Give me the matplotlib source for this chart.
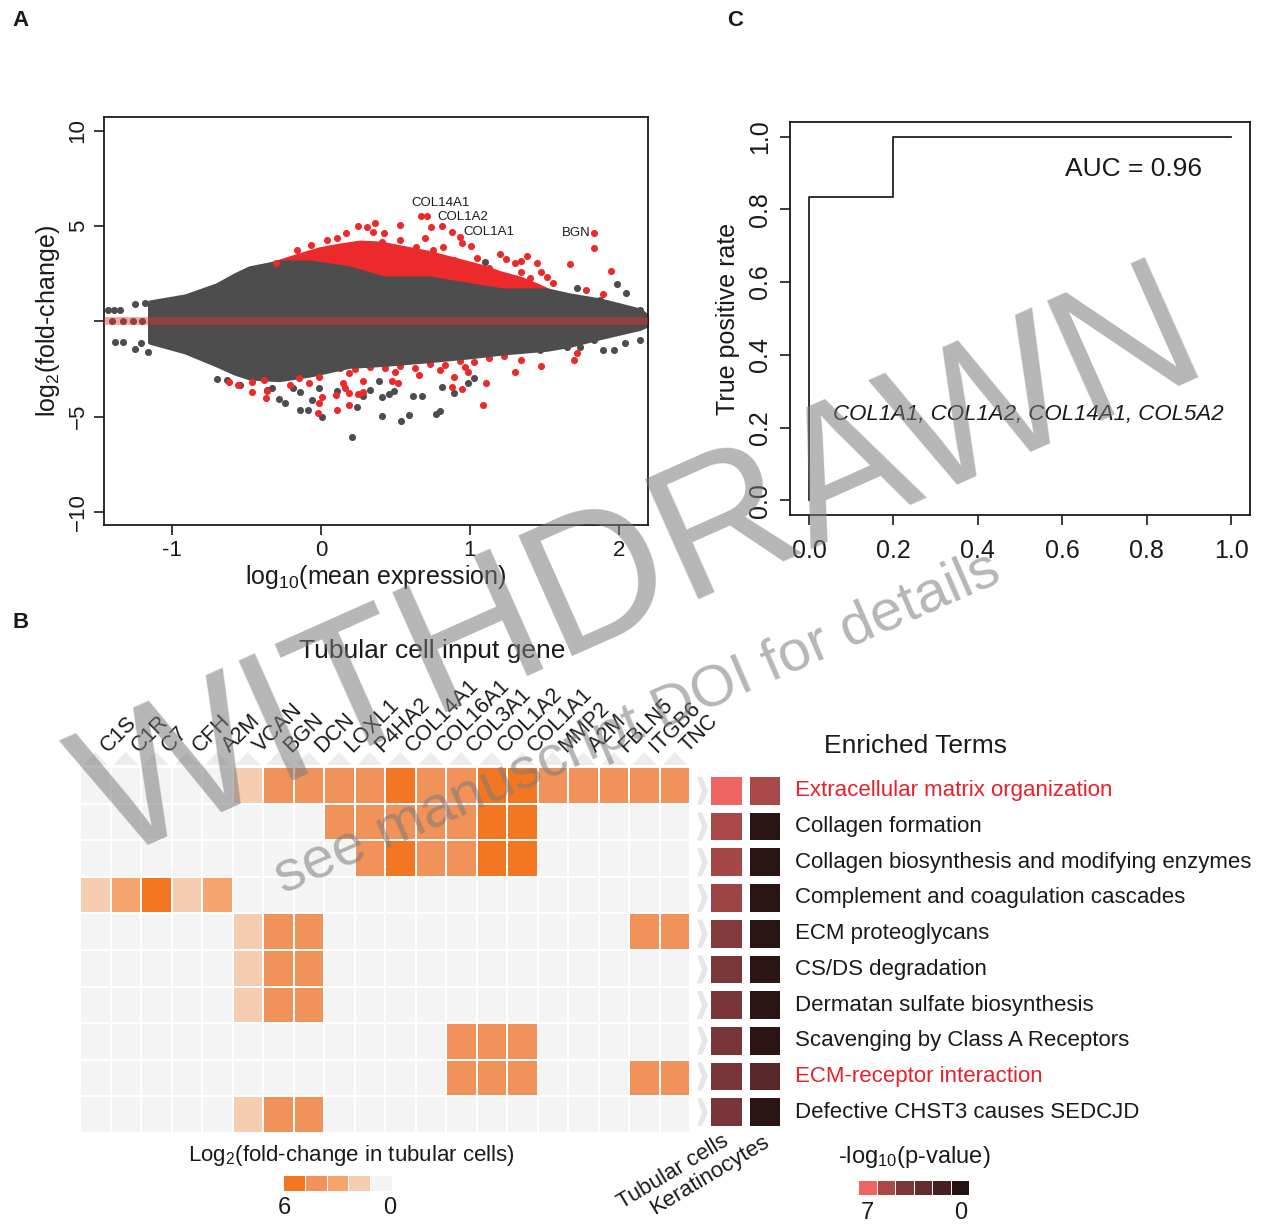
import numpy as np
import matplotlib.pyplot as plt
from matplotlib.colors import ListedColormap, BoundaryNorm, LinearSegmentedColormap, Normalize

plt.rcParams['font.family'] = ['Liberation Sans', 'DejaVu Sans']
plt.rcParams['mathtext.fontset'] = 'custom'
plt.rcParams['mathtext.rm'] = 'Liberation Sans'
plt.rcParams['mathtext.it'] = 'Liberation Sans:italic'

# ---------------- data ----------------
# panel A: MA plot, dense cloud given as envelopes
core_x = [-1.15, -0.91, -0.70, -0.58, -0.48, -0.28, -0.07, 0.19, 0.42, 0.73, 1.00, 1.22, 1.52, 1.67, 1.87, 2.14, 2.19]
core_hi = [1.02, 1.34, 1.92, 2.44, 2.81, 3.12, 3.12, 2.81, 2.28, 2.28, 1.92, 1.65, 1.65, 1.39, 1.13, 0.60, 0.29]
core_lo = [-1.08, -1.60, -2.28, -2.70, -2.96, -3.05, -2.80, -2.35, -2.25, -2.05, -1.85, -1.65, -1.45, -1.25, -0.85, -0.36, -0.18]

red_up_x = [-0.36, -0.28, -0.14, -0.01, 0.13, 0.26, 0.40, 0.53, 0.73, 0.90, 1.07, 1.20, 1.34, 1.45, 1.52]
red_up_y = [3.0, 3.2, 3.55, 3.85, 4.05, 4.2, 4.15, 3.95, 3.65, 3.3, 2.95, 2.6, 2.3, 1.95, 1.7]

red_pts_x = [0.25, 0.31, 0.36, 0.35, 0.53, 0.42, 0.17, 0.11, 0.53, 0.41, 0.64, 0.67, 0.71, 0.74, 0.81,
             0.88, 0.93, 0.95, 1.01, 0.70, 1.20, 1.24, 1.30, 1.34, 1.38, 1.45, 1.48, 1.52, 1.56, 1.67,
             1.83, 1.83, 1.95, 1.78, 1.89,
             -0.30, -0.16, -0.07, 0.04, 0.17, 0.31, 0.44, 0.58, 0.75, 0.82, 0.89, 1.05, 1.13, 1.34, 1.40, 1.32,
             -0.62, -0.56, -0.46, -0.46, -0.38, -0.37, -0.36, -0.21, -0.15, -0.08, -0.01, 0.01, -0.01,
             -0.02, 0.11, 0.19, 0.10, 0.19, 0.25, 0.28, 0.15, 0.16, 0.28, 0.48, 0.52, 0.66, 0.88, 0.95,
             0.89, 1.09, 1.11, 1.30, 1.34, 1.48, 1.72, 1.70, 0.99, 0.97,
             0.13, 0.23, 0.33, 0.43, 0.53, 0.63, 0.73, 0.83, 0.93, 1.03, 1.13, 1.23, 0.19, 0.50, 0.80]
red_pts_y = [5.01, 4.96, 5.17, 4.70, 5.06, 4.64, 4.64, 4.38, 4.28, 4.17, 3.91, 5.54, 5.54, 4.96, 5.01,
             4.70, 4.43, 4.12, 3.96, 4.38, 3.54, 3.28, 3.07, 3.17, 3.44, 3.07, 2.60, 2.33, 2.02, 3.02,
             4.64, 3.86, 2.65, 1.65, 1.44,
             3.07, 3.75, 4.01, 4.28, 3.91, 3.86, 3.75, 3.39, 3.75, 3.91, 3.23, 3.33, 2.81, 2.60, 2.28, 2.07,
             -3.17, -3.33, -3.17, -3.70, -3.07, -4.01, -3.65, -3.33, -2.96, -3.23, -2.91, -3.96, -4.28,
             -4.80, -4.64, -4.38, -3.86, -3.75, -3.80, -3.70, -3.23, -3.49, -3.12, -3.12, -3.23, -2.81,
             -3.44, -3.54, -2.91, -4.38, -3.23, -2.65, -2.02, -2.33, -1.65, -2.02, -2.65, -2.39,
             -2.45, -2.50, -2.40, -2.45, -2.35, -2.44, -2.25, -2.28, -2.10, -2.12, -1.90, -1.80, -2.70, -2.65, -2.54]

grey_pts_x = [-1.43, -1.39, -1.35, -1.25, -1.18, -1.40, -1.33, -1.26, -1.20, -1.38, -1.33, -1.21, -1.25,
              -1.16, -0.70, -0.63, -0.54, -0.52, -0.28, -0.24, -0.14, -0.09, -0.06, 0.01, -0.36, -0.33,
              -0.19, -0.14, -0.01, 0.21, 0.41, 0.54, 0.59, 0.77, 0.80, 0.62, 0.68, 0.41, 0.46, 0.49,
              0.24, 0.28, 0.11, 0.81, 0.89, 0.99, 1.03, 0.33, 0.39, 1.89, 1.97, 2.04, 2.14, 1.47, 1.65,
              1.74, 1.83, 1.10, 1.99, 2.05, 1.72, 1.87, 2.14]
grey_pts_y = [0.60, 0.60, 0.60, 0.92, 0.97, 0.00, 0.00, 0.00, 0.00, -1.08, -1.08, -1.13, -1.44,
              -1.60, -3.02, -3.07, -3.33, -2.54, -4.07, -4.28, -4.64, -4.64, -4.12, -5.01, -3.59, -3.49,
              -3.49, -3.70, -3.49, -6.06, -4.96, -5.22, -4.91, -4.85, -4.70, -3.91, -3.91, -3.96, -3.80, -3.65,
              -4.49, -3.91, -3.65, -3.44, -3.75, -3.23, -2.96, -3.59, -3.12, -1.50, -1.50, -1.13, -0.97, -1.50, -1.34,
              -1.34, -0.97, 3.12, 1.97, 1.50, 1.76, 1.13, 0.60]

gene_labels = ['COL14A1', 'COL1A2', 'COL1A1', 'BGN']
gene_label_xy = [(0.805, 6.22), (0.953, 5.48), (1.128, 4.70), (1.711, 4.64)]

# panel C: ROC curve
fpr = [0.0, 0.0, 0.2, 0.2, 1.0]
tpr = [0.0, 0.833, 0.833, 1.0, 1.0]

# panel B: heatmap of log2 fold change (rows = terms, cols = genes)
genes = ['C1S', 'C1R', 'C7', 'CFH', 'A2M', 'VCAN', 'BGN', 'DCN', 'LOXL1', 'P4HA2', 'COL14A1',
         'COL16A1', 'COL3A1', 'COL1A2', 'COL1A1', 'MMP2', 'A2M', 'FBLN5', 'ITGB6', 'TNC']
terms = ['Extracellular matrix organization', 'Collagen formation',
         'Collagen biosynthesis and modifying enzymes', 'Complement and coagulation cascades',
         'ECM proteoglycans', 'CS/DS degradation', 'Dermatan sulfate biosynthesis',
         'Scavenging by Class A Receptors', 'ECM-receptor interaction', 'Defective CHST3 causes SEDCJD']
highlighted = ['Extracellular matrix organization', 'ECM-receptor interaction']
fold = [
    [0, 0, 0, 0, 0, 1.5, 4.5, 4.5, 4.5, 4.5, 6, 4.5, 4.5, 6, 6, 4.5, 4.5, 4.5, 4.5, 4.5],
    [0, 0, 0, 0, 0, 0, 0, 0, 4.5, 4.5, 4.5, 4.5, 4.5, 6, 6, 0, 0, 0, 0, 0],
    [0, 0, 0, 0, 0, 0, 0, 0, 0, 4.5, 6, 4.5, 4.5, 6, 6, 0, 0, 0, 0, 0],
    [1.5, 3, 6, 1.5, 3, 0, 0, 0, 0, 0, 0, 0, 0, 0, 0, 0, 0, 0, 0, 0],
    [0, 0, 0, 0, 0, 1.5, 4.5, 4.5, 0, 0, 0, 0, 0, 0, 0, 0, 0, 0, 4.5, 4.5],
    [0, 0, 0, 0, 0, 1.5, 4.5, 4.5, 0, 0, 0, 0, 0, 0, 0, 0, 0, 0, 0, 0],
    [0, 0, 0, 0, 0, 1.5, 4.5, 4.5, 0, 0, 0, 0, 0, 0, 0, 0, 0, 0, 0, 0],
    [0, 0, 0, 0, 0, 0, 0, 0, 0, 0, 0, 0, 4.5, 4.5, 4.5, 0, 0, 0, 0, 0],
    [0, 0, 0, 0, 0, 0, 0, 0, 0, 0, 0, 0, 4.5, 4.5, 4.5, 0, 0, 0, 4.5, 4.5],
    [0, 0, 0, 0, 0, 1.5, 4.5, 4.5, 0, 0, 0, 0, 0, 0, 0, 0, 0, 0, 0, 0],
]
# -log10(p) for the two cell types
p_tubular = [7.0, 5.6, 5.5, 5.2, 4.4, 4.1, 4.0, 4.0, 4.0, 4.0]
p_kerat = [5.6, 0.3, 0.3, 0.3, 0.3, 0.3, 0.3, 0.3, 2.2, 0.3]
cell_types = ['Tubular cells', 'Keratinocytes']
fold_bar = [6, 4.5, 3, 1.5, 0]
p_bar = [7, 5.6, 4.2, 2.8, 1.4, 0]

# ---------------- figure ----------------
W, H = 1266, 1226
fig = plt.figure(figsize=(W / 100, H / 100), dpi=100)
TXT = '#1a1a1a'
GREY = '#4d4d4d'
RED = '#ec2a2c'


def box(l, t, r, b):
    return [l / W, 1 - b / H, (r - l) / W, (b - t) / H]


# ---- panel A ----
axA = fig.add_axes(box(104, 117, 648, 525))
axA.fill_between(red_up_x, 1.0, red_up_y, color=RED, lw=2, zorder=1)
axA.scatter(red_pts_x[-15:], red_pts_y[-15:], s=26, c=RED, lw=0, zorder=1.5)
axA.fill_between(core_x, core_lo, core_hi, color=GREY, lw=3, zorder=2)
axA.scatter(grey_pts_x, grey_pts_y, s=26, c=GREY, lw=0, zorder=3)
axA.scatter(red_pts_x[:-15], red_pts_y[:-15], s=26, c=RED, lw=0, zorder=3)
axA.axhline(0, color='#e8302f', alpha=0.45, lw=5.5, zorder=4)
for g, (gx, gy) in zip(gene_labels, gene_label_xy):
    axA.text(gx, gy, g, fontsize=9.5, color=TXT, ha='center', va='center', zorder=5)
axA.set_xlim(-1.456, 2.195)
axA.set_ylim(-10.68, 10.73)
axA.set_xticks([-1, 0, 1, 2])
axA.set_xticklabels(['-1', '0', '1', '2'])
axA.set_yticks([-10, -5, 0, 5, 10])
axA.set_yticklabels(['\u221210', '\u22125', '', '5', '10'])
axA.tick_params(labelsize=16, length=7, width=1.2, colors=TXT, pad=4)
axA.tick_params(axis='y', labelrotation=90)
for lab in axA.get_yticklabels():
    lab.set_va('center')
for s in axA.spines.values():
    s.set_linewidth(1.3)
    s.set_color(TXT)
axA.set_xlabel(r'log$_{\mathregular{10}}$(mean expression)', fontsize=18, color=TXT, labelpad=1)
axA.set_ylabel(r'log$_{\mathregular{2}}$(fold-change)', fontsize=18, color=TXT, labelpad=4)

# ---- panel C ----
axC = fig.add_axes(box(790, 122, 1250, 515))
axC.plot(fpr, tpr, color='#222222', lw=1.3)
axC.set_xlim(-0.045, 1.045)
axC.set_ylim(-0.04, 1.04)
ticks = [0, 0.2, 0.4, 0.6, 0.8, 1.0]
axC.set_xticks(ticks)
axC.set_yticks(ticks)
axC.set_xticklabels(['%.1f' % t for t in ticks])
axC.set_yticklabels(['%.1f' % t for t in ticks])
axC.tick_params(labelsize=18, length=7, width=1.2, colors=TXT, pad=10)
axC.tick_params(axis='y', labelrotation=90, pad=6)
for lab in axC.get_yticklabels():
    lab.set_va('center')
for s in axC.spines.values():
    s.set_linewidth(1.3)
    s.set_color(TXT)
axC.set_ylabel('True positive rate', fontsize=18, color=TXT, labelpad=6)
axC.text(0.77, 0.91, 'AUC = 0.96', fontsize=19, color=TXT, ha='center', va='center')
axC.text(0.52, 0.235, 'COL1A1, COL1A2, COL14A1, COL5A2', fontsize=16, style='italic',
         color=TXT, ha='center', va='center')

# ---- panel B heatmap ----
fold_colors = ['#f4f4f4', '#f6cdb0', '#f4a46c', '#f0925a', '#f37722']
fold_cmap = ListedColormap(fold_colors)
fold_norm = BoundaryNorm([-0.5, 0.75, 2.25, 3.75, 5.25, 6.5], fold_cmap.N)
axB = fig.add_axes(box(80, 767, 690, 1133))
axB.pcolormesh(np.array(fold), cmap=fold_cmap, norm=fold_norm, edgecolors='white', linewidth=1.2)
axB.set_xlim(0, len(genes))
axB.set_ylim(len(terms), 0)
axB.axis('off')

p_cmap = LinearSegmentedColormap.from_list(
    'pv', [(0, '#241111'), (0.2, '#462020'), (0.4, '#652c2f'), (0.6, '#7c3839'),
           (0.8, '#a84848'), (1.0, '#f06464')])
p_norm = Normalize(0, 7)
axP = fig.add_axes(box(706.5, 773, 784.5, 1130))
axP.pcolormesh(np.column_stack([p_tubular, p_kerat]), cmap=p_cmap, norm=p_norm,
               edgecolors='white', linewidth=5.5)
axP.set_xlim(0, 2)
axP.set_ylim(len(terms), 0)
axP.axis('off')

# colour keys
axK1 = fig.add_axes(box(283, 1175, 392, 1191))
axK1.pcolormesh(np.array([fold_bar]), cmap=fold_cmap, norm=fold_norm, edgecolors='white', linewidth=0.5)
axK1.axis('off')
axK2 = fig.add_axes(box(858, 1180, 969, 1195))
axK2.pcolormesh(np.array([p_bar]), cmap=p_cmap, norm=p_norm, edgecolors='white', linewidth=0.5)
axK2.axis('off')

# ---- overlay for labels / decorations in pixel coordinates ----
ov = fig.add_axes([0, 0, 1, 1], zorder=10)
ov.set_xlim(0, W)
ov.set_ylim(H, 0)
ov.axis('off')
ov.patch.set_alpha(0)

for lab, (x, y) in zip(['A', 'B', 'C'], [(12, 20), (12, 622), (727, 20)]):
    ov.text(x, y, lab, fontsize=16, fontweight='bold', color=TXT, ha='left', va='center')

cw = 610 / len(genes)
for i, g in enumerate(genes):
    cx = 80 + (i + 0.5) * cw
    ov.fill([80 + i * cw + 3, cx, 80 + (i + 1) * cw - 3], [765, 752, 765], color='#ececec', lw=0)
    ov.text(cx + 13, 753, g, fontsize=15.5, rotation=45, rotation_mode='anchor',
            ha='left', va='baseline', color=TXT)

rh = (1130 - 773) / len(terms)
for i, t in enumerate(terms):
    cy = 773 + (i + 0.5) * rh
    ov.fill([697, 702, 708, 702, 697, 702], [cy - 14, cy - 14, cy, cy + 14, cy + 14, cy],
            color='#e6e6e6', lw=0)
    ov.text(795, cy, t, fontsize=16, color='#e8202a' if t in highlighted else TXT,
            ha='left', va='center')

ov.text(432, 651, 'Tubular cell input gene', fontsize=19, color=TXT, ha='center', va='center')
ov.text(915, 746, 'Enriched Terms', fontsize=19, color=TXT, ha='center', va='center')
ov.text(351, 1155, r'Log$_{\mathregular{2}}$(fold-change in tubular cells)', fontsize=16,
        color=TXT, ha='center', va='center')
ov.text(284, 1208, '6', fontsize=17, color=TXT, ha='center', va='center')
ov.text(390, 1208, '0', fontsize=17, color=TXT, ha='center', va='center')
ov.text(914, 1157, r'-log$_{\mathregular{10}}$(p-value)', fontsize=17, color=TXT, ha='center', va='center')
ov.text(867, 1213, '7', fontsize=17, color=TXT, ha='center', va='center')
ov.text(961, 1213, '0', fontsize=17, color=TXT, ha='center', va='center')
ov.text(721, 1131, cell_types[0], fontsize=16, rotation=31, rotation_mode='anchor',
        ha='right', va='top', color=TXT)
ov.text(762, 1131, cell_types[1], fontsize=16, rotation=31, rotation_mode='anchor',
        ha='right', va='top', color=TXT)

# watermark
ov.text(642, 570, 'WITHDRAWN', fontsize=138, rotation=24, rotation_mode='anchor',
        ha='center', va='center', color='#7a7a7a', alpha=0.55)
ov.text(637, 724, 'see manuscript DOI for details', fontsize=42, rotation=23.5,
        rotation_mode='anchor', ha='center', va='center', color='#7a7a7a', alpha=0.55)

fig.savefig('out.png', dpi=100)
